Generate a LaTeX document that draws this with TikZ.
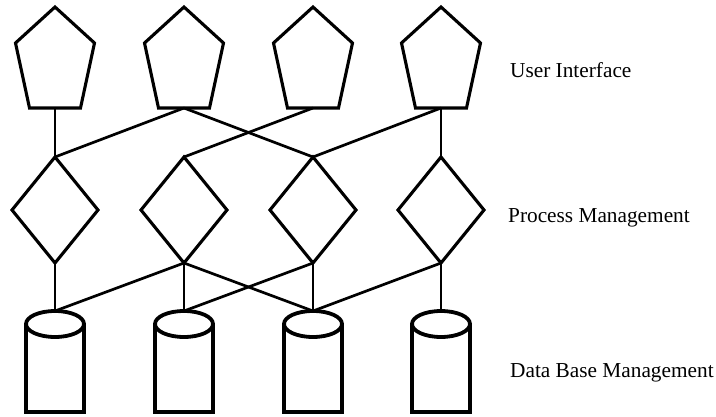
\documentclass[tikz,border=0pt]{standalone}
\usepackage{fontspec}
\setmainfont{Liberation Serif}
\begin{document}
\begin{tikzpicture}[x=1pt,y=-1pt,
  outline/.style={line width=3.1pt, line join=miter},
  link/.style={line width=2.7pt},
  dbline/.style={line width=3.8pt},
  layer/.style={font=\fontsize{21.3}{25}\selectfont, anchor=base west, inner sep=0pt}]
  \useasboundingbox (0,0) rectangle (716,416);

  % three tiers of symbols: pentagons, diamonds, cylinders
  \foreach \i/\c in {1/55,2/184,3/313,4/441} {
    % user interface pentagon
    \draw[outline] (\c,7) -- (\c+39.5,43) -- (\c+25.5,108)
                   -- (\c-25.5,108) -- (\c-39.5,43) -- cycle;
    \coordinate (ui\i) at (\c,108);
    % process diamond
    \draw[outline] (\c,157) -- (\c+43,210) -- (\c,263) -- (\c-43,210) -- cycle;
    \coordinate (pt\i) at (\c,157);
    \coordinate (pb\i) at (\c,263);
    % database cylinder
    \draw[dbline] (\c-29,324) -- (\c-29,412) -- (\c+29,412) -- (\c+29,324);
    \draw[dbline, fill=white] (\c,324) ellipse [x radius=29pt, y radius=13pt];
    \coordinate (db\i) at (\c,311);
  }

  % interface -> process links
  \draw[link] (ui1) -- (pt1);
  \draw[link] (ui2) -- (pt1);
  \draw[link] (ui2) -- (pt3);
  \draw[link] (ui3) -- (pt2);
  \draw[link] (ui4) -- (pt3);
  \draw[link] (ui4) -- (pt4);

  % process -> database links
  \draw[link] (pb1) -- (db1);
  \draw[link] (pb2) -- (db1);
  \draw[link] (pb2) -- (db2);
  \draw[link] (pb2) -- (db3);
  \draw[link] (pb3) -- (db2);
  \draw[link] (pb3) -- (db3);
  \draw[link] (pb4) -- (db3);
  \draw[link] (pb4) -- (db4);

  % tier labels
  \node[layer] (lui) at (510,77) {User Interface};
  \node[layer] (lpm) at (508,222) {Process Management};
  \node[layer] (ldb) at (510,377) {Data Base Management};
\end{tikzpicture}
\end{document}
